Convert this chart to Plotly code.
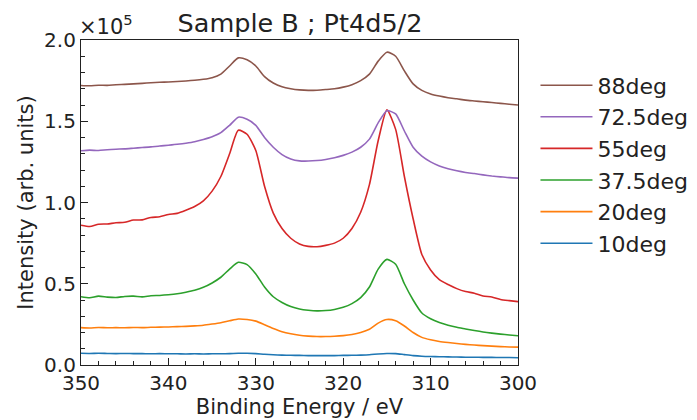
import plotly.graph_objects as go

energy = [350, 349, 348, 347, 346, 345, 344, 343, 342, 341, 340, 339, 338, 337, 336, 335, 334, 333, 332, 331,
          330, 329, 328, 327, 326, 325, 324, 323, 322, 321, 320, 319, 318, 317, 316, 315, 314, 313, 312, 311,
          310, 309, 308, 307, 306, 305, 304, 303, 302, 301, 300]

deg10 = [0.072, 0.071, 0.072, 0.071, 0.070, 0.071, 0.070, 0.070, 0.069, 0.070, 0.069, 0.069, 0.068, 0.069, 0.068,
         0.069, 0.069, 0.070, 0.072, 0.072, 0.070, 0.066, 0.063, 0.061, 0.060, 0.059, 0.058, 0.058, 0.058, 0.058,
         0.059, 0.060, 0.061, 0.063, 0.068, 0.071, 0.070, 0.064, 0.058, 0.054, 0.052, 0.051, 0.050, 0.049, 0.048,
         0.048, 0.047, 0.047, 0.046, 0.046, 0.045]
deg20 = [0.230, 0.228, 0.231, 0.229, 0.230, 0.229, 0.231, 0.230, 0.232, 0.233, 0.234, 0.236, 0.238, 0.241, 0.245,
         0.252, 0.260, 0.272, 0.283, 0.280, 0.270, 0.248, 0.225, 0.205, 0.192, 0.183, 0.178, 0.175, 0.175, 0.177,
         0.181, 0.188, 0.200, 0.220, 0.258, 0.280, 0.272, 0.240, 0.200, 0.170, 0.155, 0.145, 0.138, 0.132, 0.127,
         0.123, 0.119, 0.116, 0.113, 0.111, 0.110]
deg37_5 = [0.420, 0.414, 0.424, 0.418, 0.415, 0.422, 0.424, 0.419, 0.426, 0.428, 0.432, 0.438, 0.448, 0.460, 0.478,
           0.505, 0.540, 0.590, 0.632, 0.618, 0.560, 0.480, 0.420, 0.385, 0.360, 0.345, 0.337, 0.333, 0.335, 0.342,
           0.355, 0.378, 0.415, 0.480, 0.590, 0.650, 0.620, 0.500, 0.400, 0.320, 0.285, 0.262, 0.245, 0.232, 0.222,
           0.212, 0.203, 0.196, 0.190, 0.185, 0.180]
deg55 = [0.860, 0.852, 0.866, 0.868, 0.875, 0.878, 0.892, 0.893, 0.908, 0.912, 0.926, 0.933, 0.952, 0.975, 1.010,
         1.070, 1.160, 1.300, 1.445, 1.420, 1.320, 1.100, 0.935, 0.840, 0.780, 0.745, 0.730, 0.728, 0.736, 0.750,
         0.780, 0.840, 0.940, 1.110, 1.380, 1.570, 1.450, 1.160, 0.900, 0.680, 0.585, 0.525, 0.495, 0.470, 0.452,
         0.442, 0.425, 0.418, 0.403, 0.396, 0.390]
deg72_5 = [1.318, 1.322, 1.320, 1.325, 1.328, 1.330, 1.334, 1.338, 1.342, 1.348, 1.352, 1.358, 1.365, 1.374, 1.388,
           1.405, 1.430, 1.475, 1.525, 1.512, 1.475, 1.400, 1.340, 1.295, 1.268, 1.256, 1.255, 1.258, 1.265, 1.275,
           1.290, 1.310, 1.340, 1.390, 1.490, 1.565, 1.545, 1.440, 1.340, 1.285, 1.250, 1.225, 1.208, 1.195, 1.185,
           1.178, 1.170, 1.163, 1.158, 1.153, 1.150]
deg88 = [1.720, 1.718, 1.722, 1.721, 1.725, 1.727, 1.730, 1.733, 1.737, 1.740, 1.742, 1.745, 1.748, 1.752, 1.758,
         1.768, 1.790, 1.840, 1.890, 1.878, 1.840, 1.775, 1.735, 1.712, 1.700, 1.693, 1.690, 1.691, 1.695, 1.700,
         1.710, 1.725, 1.750, 1.790, 1.870, 1.925, 1.900, 1.810, 1.730, 1.690, 1.668, 1.655, 1.645, 1.638, 1.630,
         1.625, 1.620, 1.615, 1.610, 1.605, 1.600]

series_names = ["10deg", "20deg", "37.5deg", "55deg", "72.5deg", "88deg"]
series_values = [deg10, deg20, deg37_5, deg55, deg72_5, deg88]
colors = ["#1f77b4", "#ff7f0e", "#2ca02c", "#d62728", "#9467bd", "#8c564b"]

y_tickvals = [0.0, 0.5, 1.0, 1.5, 2.0]
y_ticktext = ["0.0", "0.5", "1.0", "1.5", "2.0"]
x_tickvals = [350, 340, 330, 320, 310, 300]

FONT = "DejaVu Sans"
OFF = 8  # page body margin offset

fig = go.Figure()
for name, vals, col in zip(series_names, series_values, colors):
    fig.add_trace(go.Scatter(x=energy, y=vals, mode="lines", name=name, legendgroup=name,
                             line=dict(color=col, width=1.6, shape="spline", smoothing=0.6)))

fig.update_layout(
    width=697, height=420,
    margin=dict(l=81 - OFF, r=179 + OFF, t=40 - OFF, b=55 + OFF, autoexpand=False),
    paper_bgcolor="white", plot_bgcolor="white",
    font=dict(family=FONT, size=20, color="#222"),
    title=dict(text="Sample B ; Pt4d5/2", x=(300 - OFF) / 697, xanchor="center",
               y=1 - 15 / 420, yanchor="middle", font=dict(size=25.5, color="#222"),
               automargin=False),
    legend=dict(x=1.04, y=0.925, xanchor="left", yanchor="top", traceorder="reversed",
                tracegroupgap=10, bgcolor="rgba(0,0,0,0)", font=dict(size=22),
                itemwidth=52),
    showlegend=True,
)

fig.update_xaxes(range=[350, 300], tickvals=x_tickvals, ticks="inside", ticklen=7, tickwidth=1,
                 minor=dict(ticks="inside", ticklen=4, dtick=2, tickcolor="#222"),
                 showline=True, linecolor="#222", linewidth=1.2, mirror=True, showgrid=False,
                 zeroline=False, tickcolor="#222", automargin=False,
                 title=dict(text="Binding Energy / eV", standoff=2, font=dict(size=21)))
fig.update_yaxes(range=[0, 2.0], tickvals=y_tickvals, ticktext=y_ticktext, ticks="inside", ticklen=7,
                 tickwidth=1, minor=dict(ticks="inside", ticklen=4, dtick=0.1, tickcolor="#222"),
                 showline=True, linecolor="#222", linewidth=1.2, mirror=True, showgrid=False,
                 zeroline=False, tickcolor="#222", automargin=False,
                 title=dict(text="Intensity (arb. units)", standoff=4, font=dict(size=21)))

fig.add_annotation(text="×10<sup>5</sup>", xref="paper", yref="paper", x=0.0, y=1.0,
                   xanchor="left", yanchor="bottom", showarrow=False, yshift=-1, xshift=-4,
                   font=dict(size=21, color="#222"))

fig.write_html("out.html")
